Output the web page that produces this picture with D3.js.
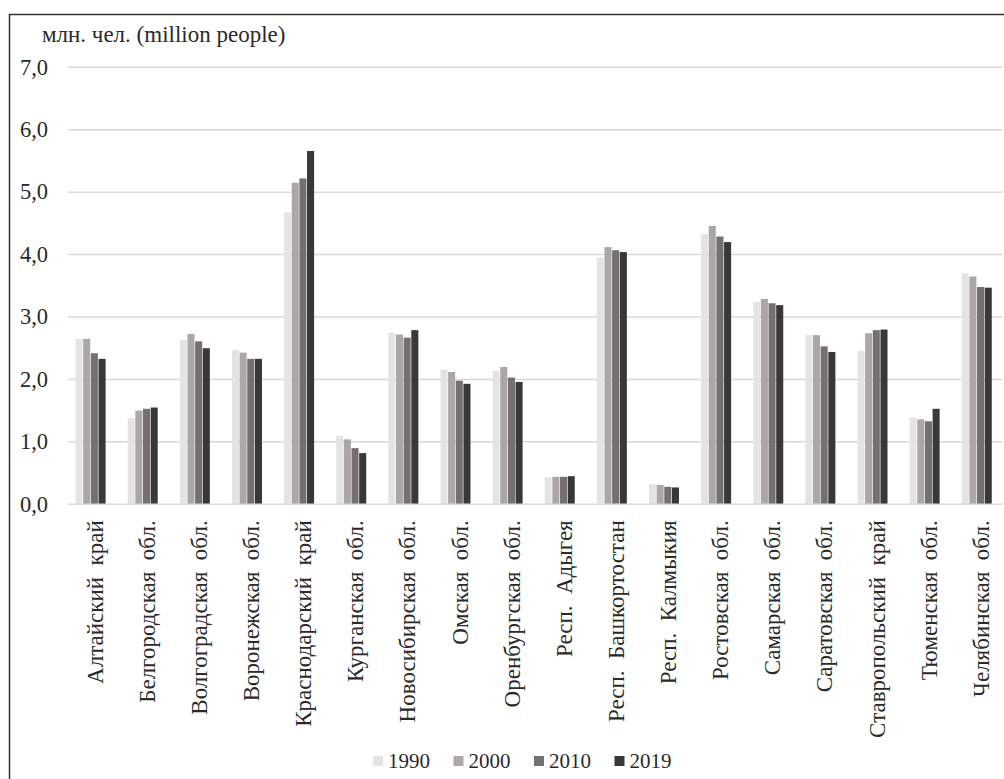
<!DOCTYPE html>
<html>
<head>
<meta charset="utf-8">
<script src="https://cdn.jsdelivr.net/npm/d3@7"></script>
<style>
  html, body { margin: 0; padding: 0; background: #fff; }
  svg { display: block; }
</style>
</head>
<body>
<svg id="chart" width="1004" height="779"></svg>
<script>
// Population of regions, million people
const regions = [
  "Алтайский  край", "Белгородская  обл.", "Волгоградская  обл.", "Воронежская  обл.",
  "Краснодарский  край", "Курганская  обл.", "Новосибирская  обл.", "Омская  обл.",
  "Оренбургская  обл.", "Респ.  Адыгея", "Респ.  Башкортостан", "Респ.  Калмыкия",
  "Ростовская  обл.", "Самарская  обл.", "Саратовская  обл.", "Ставропольский  край",
  "Тюменская  обл.", "Челябинская  обл."
];
const years = ["1990", "2000", "2010", "2019"];
const pop1990 = [2.65, 1.38, 2.63, 2.47, 4.67, 1.10, 2.75, 2.16, 2.14, 0.43, 3.95, 0.32, 4.33, 3.24, 2.71, 2.46, 1.39, 3.70];
const pop2000 = [2.65, 1.50, 2.73, 2.43, 5.15, 1.04, 2.72, 2.12, 2.20, 0.44, 4.12, 0.31, 4.46, 3.29, 2.71, 2.74, 1.36, 3.65];
const pop2010 = [2.42, 1.53, 2.61, 2.33, 5.22, 0.90, 2.67, 1.98, 2.03, 0.44, 4.07, 0.28, 4.29, 3.22, 2.53, 2.79, 1.33, 3.48];
const pop2019 = [2.33, 1.55, 2.50, 2.33, 5.66, 0.82, 2.79, 1.93, 1.96, 0.45, 4.04, 0.27, 4.20, 3.19, 2.44, 2.80, 1.53, 3.47];
const yTicks = [0, 1, 2, 3, 4, 5, 6, 7];
const colors = ["#e4e4e4", "#aba7a6", "#757070", "#383838"];

const series = [pop1990, pop2000, pop2010, pop2019];
const FONT = '"Liberation Serif"';
const TEXT = "#2a2a2a";

// apply the serif face to a text selection
function serifText(sel, size) {
  sel.style("font-family", FONT)
     .attr("font-size", size)
     .style("fill", TEXT);
  return sel;
}

const svg = d3.select("#chart");

// outer frame
svg.append("rect")
  .attr("x", 9.5).attr("y", 14.5)
  .attr("width", 1004).attr("height", 780)
  .attr("fill", "none").attr("stroke", "#333").attr("stroke-width", 1.5);

const x0 = d3.scaleBand().domain(regions).range([64.5, 1002.8]).paddingInner(0).paddingOuter(0);
const x1 = d3.scaleBand().domain(years).range([0, x0.bandwidth() * 0.6]).padding(0.08);
const groupOffset = x0.bandwidth() * 0.2;
const y = d3.scaleLinear().domain([0, 7]).range([504.3, 67.3]);

const fmt = d => d3.format(".1f")(d).replace(".", ",");

// gridlines
svg.append("g")
  .selectAll("line")
  .data(yTicks.filter(d => d > 0))
  .join("line")
  .attr("x1", 68).attr("x2", 1002)
  .attr("y1", d => y(d)).attr("y2", d => y(d))
  .attr("stroke", "#d9d9d9").attr("stroke-width", 1.5);

// y-axis labels
const yAxis = d3.axisLeft(y).tickValues(yTicks).tickFormat(fmt).tickSize(0).tickPadding(0);
const yg = svg.append("g").attr("transform", "translate(48,0)").call(yAxis);
yg.attr("font-family", null).attr("font-size", null);
yg.select(".domain").remove();
serifText(yg.selectAll("text"), 22.5).attr("dy", "0.3em");

// bars
const groups = svg.append("g")
  .selectAll("g")
  .data(regions)
  .join("g")
  .attr("transform", d => `translate(${x0(d) + groupOffset},0)`);

groups.selectAll("rect")
  .data((d, i) => years.map((yr, k) => ({ yr, v: series[k][i], k })))
  .join("rect")
  .attr("x", d => x1(d.yr))
  .attr("width", x1.bandwidth())
  .attr("y", d => y(d.v))
  .attr("height", d => y(0) - y(d.v))
  .attr("fill", d => colors[d.k]);

// baseline
svg.append("line")
  .attr("x1", 68).attr("x2", 1002)
  .attr("y1", y(0)).attr("y2", y(0))
  .attr("stroke", "#d9d9d9").attr("stroke-width", 1.5);

// category labels
const xAxis = d3.axisBottom(x0).tickSize(0).tickPadding(0);
const xg = svg.append("g").attr("transform", `translate(0,${y(0)})`).call(xAxis);
xg.attr("font-family", null).attr("font-size", null);
xg.select(".domain").remove();
serifText(xg.selectAll("text"), 23)
  .style("white-space", "pre")
  .attr("transform", "rotate(-90)")
  .attr("text-anchor", "end")
  .attr("x", -16).attr("y", 4).attr("dy", "0.35em");

// unit title
serifText(svg.append("text"), 23)
  .attr("x", 42).attr("y", 41.5)
  .text("млн. чел. (million people)");

// legend
const legend = svg.append("g")
  .selectAll("g")
  .data(years)
  .join("g")
  .attr("transform", (d, i) => `translate(${373 + i * 80.5},761)`);
legend.append("rect")
  .attr("x", 0).attr("y", -5).attr("width", 10).attr("height", 10)
  .attr("fill", (d, i) => colors[i]);
serifText(legend.append("text"), 21)
  .attr("x", 15).attr("y", 0).attr("dy", "0.35em")
  .text(d => d);
</script>
</body>
</html>
